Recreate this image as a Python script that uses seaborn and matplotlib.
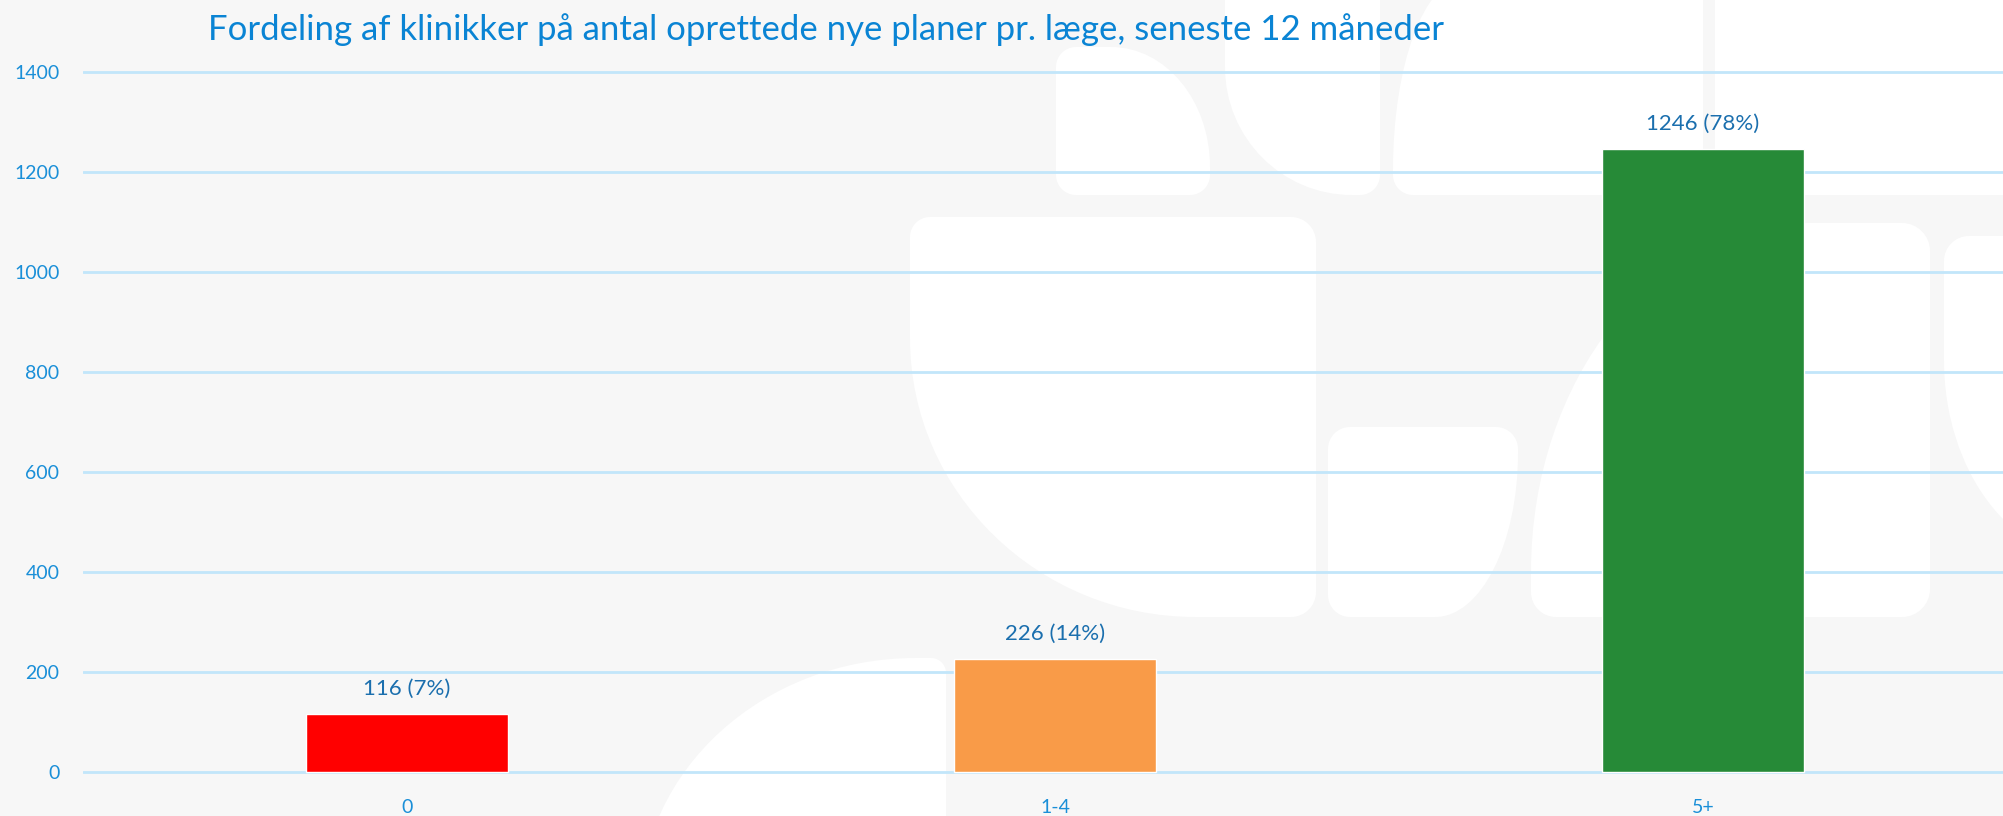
import matplotlib
matplotlib.use("Agg")
import matplotlib.pyplot as plt
import seaborn as sns
import pandas as pd
from matplotlib.path import Path
from matplotlib.patches import PathPatch

# ---- data ----
categories = ["0", "1-4", "5+"]
values = [116, 226, 1246]
percents = [7, 14, 78]
bar_colors = ["#FF0000", "#F99B48", "#268A37"]
yticks = [0, 200, 400, 600, 800, 1000, 1200, 1400]
title = "Fordeling af klinikker på antal oprettede nye planer pr. læge, seneste 12 måneder"

W, H = 2003, 816
sns.set_theme(style="white")
plt.rcParams["font.family"] = ["Lato", "DejaVu Sans"]

fig = plt.figure(figsize=(W / 100, H / 100), dpi=100)
fig.patch.set_facecolor("#F7F7F7")

# ---- decorative background shapes (pixel coords, y down) ----
K = 0.5523


def rrect(x0, y0, x1, y1, tl=(0, 0), tr=(0, 0), br=(0, 0), bl=(0, 0)):
    v = [(x0 + tl[0], y0), (x1 - tr[0], y0),
         (x1 - tr[0] + K * tr[0], y0), (x1, y0 + tr[1] - K * tr[1]), (x1, y0 + tr[1]),
         (x1, y1 - br[1]),
         (x1, y1 - br[1] + K * br[1]), (x1 - br[0] + K * br[0], y1), (x1 - br[0], y1),
         (x0 + bl[0], y1),
         (x0 + bl[0] - K * bl[0], y1), (x0, y1 - bl[1] + K * bl[1]), (x0, y1 - bl[1]),
         (x0, y0 + tl[1]),
         (x0, y0 + tl[1] - K * tl[1]), (x0 + tl[0] - K * tl[0], y0), (x0 + tl[0], y0),
         (x0 + tl[0], y0)]
    c = [Path.MOVETO, Path.LINETO,
         Path.CURVE4, Path.CURVE4, Path.CURVE4,
         Path.LINETO,
         Path.CURVE4, Path.CURVE4, Path.CURVE4,
         Path.LINETO,
         Path.CURVE4, Path.CURVE4, Path.CURVE4,
         Path.LINETO,
         Path.CURVE4, Path.CURVE4, Path.CURVE4,
         Path.CLOSEPOLY]
    v = [(x / W, 1 - y / H) for x, y in v]
    p = PathPatch(Path(v, c), facecolor="white", edgecolor="none",
                  transform=fig.transFigure, zorder=-5)
    fig.patches.append(p)


rrect(1056, 47, 1210, 195, tl=(20, 20), tr=(99, 120), br=(20, 20), bl=(20, 20))
rrect(1225, -20, 1380, 195, br=(20, 20), bl=(127, 128))
rrect(1393, -20, 1703, 195, tl=(70, 190), bl=(20, 20))
rrect(1715, -20, 2040, 195, bl=(20, 20))
rrect(910, 217, 1316, 617, tl=(20, 20), tr=(25, 25), br=(25, 25), bl=(286, 279))
rrect(1328, 427, 1518, 617, tl=(22, 22), tr=(22, 22), br=(83, 164), bl=(22, 22))
rrect(1531, 223, 1930, 617, tl=(277, 349), tr=(28, 28), br=(28, 28), bl=(25, 25))
rrect(1944, 236, 2150, 560, tl=(25, 25), bl=(150, 200))
rrect(640, 658, 946, 900, tl=(276, 250), tr=(15, 15))

# ---- axes ----
ax = fig.add_axes([83 / W, 34 / H, 1 - 83 / W, 720 / H])
ax.set_zorder(1)
ax.set_facecolor("none")

df = pd.DataFrame({"cat": categories, "val": values})
sns.barplot(data=df, x="cat", y="val", hue="cat", palette=bar_colors,
            width=0.313, dodge=False, legend=False, ax=ax, zorder=3,
            saturation=1)

ax.set_xlim(-0.5, 2.463)
ax.set_ylim(-20, 1420)
ax.set_yticks(yticks)
ax.set_yticklabels([str(t) for t in yticks])
ax.yaxis.grid(True, color="#C2E6FA", linewidth=2, zorder=1)
ax.set_axisbelow(True)
for s in ax.spines.values():
    s.set_visible(False)
ax.tick_params(axis="y", length=0, pad=17, labelsize=14, labelcolor="#1A8FD8")
ax.tick_params(axis="x", length=0, pad=12, labelsize=14, labelcolor="#1A8FD8")
ax.set_xlabel("")
ax.set_ylabel("")

for i, (v, p) in enumerate(zip(values, percents)):
    ax.annotate(f"{v} ({p}%)", xy=(i, v), xytext=(0, 11), textcoords="offset points",
                ha="center", va="bottom", fontsize=16, color="#1B6FAE", zorder=4)

fig.text(208 / W, 1 - 30 / H, title, ha="left", va="center",
         fontsize=25, color="#0A84D4")

fig.savefig("out.png", dpi=100, facecolor=fig.get_facecolor())
